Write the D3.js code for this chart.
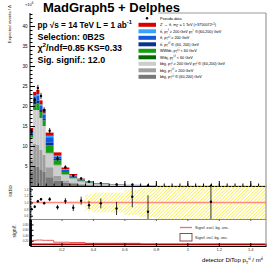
<!DOCTYPE html>
<html>
<head>
<meta charset="utf-8">
<script src="https://cdn.jsdelivr.net/npm/d3@7"></script>
<style>
body { margin: 0; background: #fff; }
svg { display: block; font-family: "Liberation Sans", Arial, sans-serif; }
</style>
</head>
<body>
<div id="chart"></div>
<script>
// bin edges in detector DiTop pT/m
const binEdges = [0, 0.02, 0.04, 0.06, 0.08, 0.1, 0.15, 0.2, 0.25, 0.3, 0.35, 0.4, 0.5, 0.6, 0.7, 0.8, 1.5];

// expected events / bin (x10^6), listed bottom of the stack first
const bbjjMid   = [3.5, 5.0, 4.8, 4.0, 3.5, 2.2, 1.4, 0.8, 0.5, 0.3, 0.2, 0.12, 0.07, 0.05, 0.03, 0.01];
const bbjjHigh  = [3.0, 5.5, 5.5, 5.0, 4.3, 2.5, 1.2, 0.6, 0.4, 0.25, 0.17, 0.1, 0.06, 0.04, 0.03, 0.01];
const bbjjMixed = [5.6, 8.5, 8.7, 8.0, 7.2, 3.5, 2.6, 1.5, 1.0, 0.6, 0.4, 0.25, 0.15, 0.1, 0.06, 0.03];
const wtbj      = [0.1, 0.2, 0.2, 0.2, 0.2, 0.2, 0.15, 0.1, 0.06, 0.04, 0.03, 0.02, 0.01, 0.01, 0.01, 0.003];
const wwbb      = [0.6, 1.2, 1.5, 1.3, 1.2, 1.8, 1.1, 0.5, 0.3, 0.2, 0.12, 0.07, 0.05, 0.03, 0.02, 0.008];
const ttMid     = [0.3, 0.6, 0.6, 0.5, 0.5, 0.6, 0.35, 0.2, 0.15, 0.1, 0.06, 0.04, 0.03, 0.02, 0.01, 0.005];
const ttHigh    = [0.5, 1.2, 1.2, 1.0, 1.0, 1.4, 0.6, 0.4, 0.25, 0.15, 0.1, 0.06, 0.04, 0.02, 0.015, 0.006];
const ttMixed   = [0.2, 0.4, 0.5, 0.4, 0.4, 0.35, 0.2, 0.12, 0.08, 0.06, 0.04, 0.03, 0.02, 0.01, 0.01, 0.003];
const zprime    = [0.7, 0.9, 1.0, 1.0, 0.9, 0.8, 0.8, 0.4, 0.26, 0.15, 0.1, 0.06, 0.04, 0.02, 0.01, 0.005];

const pseudoData    = [13.6, 21.5, 24.5, 22.5, 19.0, 13.8, 6.9, 4.7, 2.6, 1.9, 1.1, 0.73, 0.37, 0.35, 0.15, 0.08];
const pseudoDataErr = [0.7, 0.8, 0.8, 0.8, 0.7, 0.7, 0.6, 0.5, 0.4, 0.35, 0.3, 0.25, 0.2, 0.2, 0.15, 0.1];

// ratio pad
const ratio     = [0.80, 0.87, 1.04, 1.10, 0.98, 1.10, 0.855, 1.045, 0.84, 1.055, 0.92, 0.975, 0.82, 1.175, 0.72, 1.025];
const ratioErr  = [0.04, 0.04, 0.04, 0.04, 0.04, 0.06, 0.07, 0.09, 0.1, 0.12, 0.12, 0.15, 0.2, 0.32, 0.5, 0.6];
const mcStatUnc = [0.01, 0.01, 0.01, 0.01, 0.01, 0.015, 0.02, 0.03, 0.04, 0.06, 0.25, 0.3, 0.3, 0.38, 0.45, 0.5];

// significance pad
const signifExcl = [0.16, 0.21, 0.22, 0.22, 0.21, 0.21, 0.14, 0.14, 0.13, 0.13, 0.10, 0.10, 0.10, 0.10, 0.06, 0.05];
const signifIncl = [0.06, 0.06, 0.06, 0.06, 0.06, 0.06, 0.06, 0.06, 0.06, 0.06, 0.06, 0.06, 0.06, 0.06, 0.06, 0.06];

const legendLabels = [
  "Z' \u2192 tt\u0304, m_{Z'} = 1 TeV (\u00d73750072^{+1})",
  "tt\u0304, p_{T}^{t\u0304} \u2265 200 GeV p_{T}^{t} \u2208 (60,200) GeV",
  "tt\u0304, p_{T}^{t,t\u0304} \u2265 200 GeV",
  "tt\u0304, p_{T}^{t,t\u0304} \u2208 (60, 200) GeV",
  "WWbb, p_{T}^{t,t\u0304} < 60 GeV",
  "Wtbj, p_{T}^{t,t\u0304} < 60 GeV",
  "bbjj, p_{T}^{t\u0304} \u2265 200 GeV p_{T}^{t} \u2208 (60,200) GeV",
  "bbjj, p_{T}^{t,t\u0304} \u2265 200 GeV",
  "bbjj, p_{T}^{t,t\u0304} \u2208 (60,200) GeV"
];
const xTicks = [0.2, 0.4, 0.6, 0.8, 1, 1.2, 1.4];
const yTicks = [5, 10, 15, 20, 25, 30, 35, 40];

// stack order bottom -> top, legend order is the reverse
const layers = [
  { key: "bbjjMid", values: bbjjMid, color: "#787878" },
  { key: "bbjjHigh", values: bbjjHigh, color: "#a0a0a0" },
  { key: "bbjjMixed", values: bbjjMixed, color: "#cdcdcd" },
  { key: "wtbj", values: wtbj, color: "#006a00" },
  { key: "wwbb", values: wwbb, color: "#12a012" },
  { key: "ttMid", values: ttMid, color: "#08348f" },
  { key: "ttHigh", values: ttHigh, color: "#1358dc" },
  { key: "ttMixed", values: ttMixed, color: "#34a2ff" },
  { key: "zprime", values: zprime, color: "#d80000" }
];

const bins = d3.range(binEdges.length - 1).map(i => {
  const row = { x0: binEdges[i], x1: binEdges[i + 1] };
  layers.forEach(l => row[l.key] = l.values[i]);
  return row;
});
const stacked = d3.stack().keys(layers.map(l => l.key))(bins);

const W = 274, H = 267;
const svg = d3.select('#chart').append('svg')
  .attr('width', W).attr('height', H);

const defs = svg.append('defs');
defs.append('pattern')
  .attr('id', 'hatchY')
  .attr('patternUnits', 'userSpaceOnUse')
  .attr('width', 2.4).attr('height', 2.4)
  .attr('patternTransform', 'rotate(45)')
  .append('line')
  .attr('x1', 0).attr('y1', 0).attr('x2', 0).attr('y2', 2.4)
  .attr('stroke', '#f5e800').attr('stroke-width', 1.1);

const x = d3.scaleLinear().domain([0, 1.5]).range([30, 266]);
const y = d3.scaleLinear().domain([0, 43.25]).range([186, 13]);
const yR = d3.scaleLinear().domain([0.5, 1.5]).range([219, 186]);
const yS = d3.scaleLinear().domain([0, 1]).range([246, 219]);

defs.append('clipPath').attr('id', 'clipMain')
  .append('rect').attr('x', 30).attr('y', 13).attr('width', 236).attr('height', 173);
defs.append('clipPath').attr('id', 'clipRatio')
  .append('rect').attr('x', 30).attr('y', 186).attr('width', 236).attr('height', 33);

// rich text: _{..} subscript, ^{..} superscript
function rich(sel, str, fs) {
  let shift = 0;
  str.split(/(_\{[^}]*\}|\^\{[^}]*\})/).filter(s => s).forEach(s => {
    let target = 0, size = fs, t = s;
    if (s.startsWith('_{')) { target = 0.3 * fs; size = 0.7 * fs; t = s.slice(2, -1); }
    else if (s.startsWith('^{')) { target = -0.4 * fs; size = 0.7 * fs; t = s.slice(2, -1); }
    sel.append('tspan').attr('dy', target - shift).attr('font-size', size).text(t);
    shift = target;
  });
}

// ---------- main pad ----------
const main = svg.append('g').attr('clip-path', 'url(#clipMain)');

main.selectAll('g.layer')
  .data(stacked)
  .join('g')
  .attr('fill', (d, i) => layers[i].color)
  .selectAll('rect')
  .data(d => d)
  .join('rect')
  .attr('x', d => x(d.data.x0))
  .attr('width', d => x(d.data.x1) - x(d.data.x0))
  .attr('y', d => y(d[1]))
  .attr('height', d => y(d[0]) - y(d[1]));

const dataPts = main.append('g');
bins.forEach((b, i) => {
  const cx = x((b.x0 + b.x1) / 2);
  dataPts.append('line')
    .attr('x1', cx).attr('x2', cx)
    .attr('y1', y(pseudoData[i] - pseudoDataErr[i]))
    .attr('y2', y(pseudoData[i] + pseudoDataErr[i]))
    .attr('stroke', '#000').attr('stroke-width', 0.8);
  dataPts.append('circle')
    .attr('cx', cx).attr('cy', y(pseudoData[i])).attr('r', 1.2);
});

svg.append('g')
  .attr('transform', 'translate(30,0)')
  .call(d3.axisLeft(y).tickValues(d3.range(1, 44)).tickSize(-2.5).tickSizeOuter(0).tickFormat(''))
  .call(g => g.select('.domain').remove());
svg.append('g')
  .attr('transform', 'translate(30,0)')
  .call(d3.axisLeft(y).tickValues(yTicks).tickSize(-5).tickSizeOuter(0).tickPadding(2.5))
  .call(g => g.select('.domain').attr('d', 'M0,13V186'))
  .call(g => g.selectAll('text').attr('font-size', 4.6).attr('font-family', 'Liberation Sans, Arial'));

svg.append('g')
  .attr('transform', 'translate(0,186)')
  .call(d3.axisBottom(x).tickValues(d3.range(0.05, 1.5, 0.05)).tickSize(-2.5).tickSizeOuter(0).tickFormat(''))
  .call(g => g.select('.domain').remove());
svg.append('g')
  .attr('transform', 'translate(0,186)')
  .call(d3.axisBottom(x).tickValues(xTicks).tickSize(-5).tickSizeOuter(0).tickFormat(''));

svg.append('text')
  .attr('x', 25).attr('y', 5.5).attr('font-size', 4)
  .call(t => rich(t, '\u00d710^{6}', 4));

svg.append('text')
  .attr('transform', 'translate(10.5,5) rotate(-90)')
  .attr('text-anchor', 'end').attr('font-size', 4.3).attr('fill', '#222')
  .text('Expected events / \u0394');

svg.append('text')
  .attr('x', 43).attr('y', 12)
  .attr('font-size', 13).attr('font-weight', 'bold')
  .text('MadGraph5 + Delphes');

const info = svg.append('g').attr('font-weight', 'bold');
info.append('text').attr('x', 37.5).attr('y', 27.5).attr('font-size', 8.2)
  .call(t => rich(t, 'pp  \u221as = 14 TeV  L = 1 ab^{-1}', 8.2));
info.append('text').attr('x', 37.5).attr('y', 39.5).attr('font-size', 8.9)
  .text('Selection: 0B2S');
info.append('text').attr('x', 37.5).attr('y', 51).attr('font-size', 8.9)
  .call(t => rich(t, '\u03c7^{2}/ndf=0.85 KS=0.33', 8.9));
info.append('text').attr('x', 37.5).attr('y', 62.5).attr('font-size', 8.9)
  .text('Sig. signif.: 12.0');

// legend
const leg = svg.append('g').attr('font-size', 3.8);
const legY = i => 18.3 + 6.5 * i;
leg.append('circle').attr('cx', 147).attr('cy', legY(0)).attr('r', 1.2);
leg.append('text').attr('x', 160).attr('y', legY(0) + 1.3).text('Pseudo-data');
legendLabels.forEach((lab, i) => {
  const layer = layers[layers.length - 1 - i];
  leg.append('rect')
    .attr('x', 138.5).attr('y', legY(i + 1) - 2).attr('width', 17.5).attr('height', 4)
    .attr('fill', layer.color);
  leg.append('text').attr('x', 160).attr('y', legY(i + 1) + 1.3)
    .call(t => rich(t, lab, 3.8));
});

// ---------- ratio pad ----------
const rp = svg.append('g').attr('clip-path', 'url(#clipRatio)');
rp.selectAll('rect.band')
  .data(bins)
  .join('rect')
  .attr('x', d => x(d.x0))
  .attr('width', d => x(d.x1) - x(d.x0))
  .attr('y', (d, i) => yR(1 + mcStatUnc[i]))
  .attr('height', (d, i) => yR(1 - mcStatUnc[i]) - yR(1 + mcStatUnc[i]))
  .attr('fill', 'url(#hatchY)');
rp.append('line')
  .attr('x1', 30).attr('x2', 266).attr('y1', yR(1)).attr('y2', yR(1))
  .attr('stroke', '#ff8a80').attr('stroke-width', 1.6);
bins.forEach((b, i) => {
  const cx = x((b.x0 + b.x1) / 2);
  rp.append('line')
    .attr('x1', cx).attr('x2', cx)
    .attr('y1', yR(ratio[i] - ratioErr[i])).attr('y2', yR(ratio[i] + ratioErr[i]))
    .attr('stroke', '#000').attr('stroke-width', 0.8);
  rp.append('circle').attr('cx', cx).attr('cy', yR(ratio[i])).attr('r', 1.2);
});

svg.append('g')
  .attr('transform', 'translate(30,0)')
  .call(d3.axisLeft(yR).tickValues(d3.range(0.55, 1.5, 0.05)).tickSize(-1.5).tickSizeOuter(0).tickFormat(''))
  .call(g => g.select('.domain').remove());
svg.append('g')
  .attr('transform', 'translate(30,0)')
  .call(d3.axisLeft(yR).tickValues([0.6, 0.8, 1, 1.2, 1.4]).tickSize(-3).tickSizeOuter(0).tickPadding(1.5))
  .call(g => g.select('.domain').attr('d', 'M0,186V219'))
  .call(g => g.selectAll('text').attr('font-size', 3).attr('fill', '#444').attr('font-family', 'Liberation Sans, Arial'));

svg.append('text')
  .attr('transform', 'translate(11.5,191) rotate(-90)')
  .attr('text-anchor', 'middle').attr('font-size', 6).attr('fill', '#222')
  .text('ratio');

// separator between ratio and significance pads
svg.append('g')
  .attr('transform', 'translate(0,219)')
  .call(d3.axisBottom(x).tickValues(xTicks).tickSize(2).tickSizeOuter(0).tickFormat(''))
  .call(g => g.select('.domain').attr('stroke', '#888'))
  .call(g => g.selectAll('.tick line').attr('stroke', '#666'));

// ---------- significance pad ----------
const stepPts = arr => {
  const pts = [[binEdges[0], 0]];
  arr.forEach((v, i) => { pts.push([binEdges[i], v]); pts.push([binEdges[i + 1], v]); });
  pts.push([binEdges[binEdges.length - 1], 0]);
  return pts;
};
const stepLine = d3.line().x(d => x(d[0])).y(d => yS(d[1]));

svg.append('path')
  .attr('d', stepLine(stepPts(signifExcl)))
  .attr('fill', 'none').attr('stroke', '#e85858').attr('stroke-width', 1);
svg.append('path')
  .attr('d', stepLine(stepPts(signifIncl)))
  .attr('fill', 'none').attr('stroke', '#a00000').attr('stroke-width', 1.8);

svg.append('g')
  .attr('transform', 'translate(30,0)')
  .call(d3.axisLeft(yS).tickValues(d3.range(0.025, 1, 0.025)).tickSize(-2).tickSizeOuter(0).tickFormat(''))
  .call(g => g.select('.domain').remove());
svg.append('g')
  .attr('transform', 'translate(30,0)')
  .call(d3.axisLeft(yS).tickValues([0.2, 0.4, 0.6, 0.8]).tickSize(-3.5).tickSizeOuter(0).tickPadding(1.5).tickFormat(d3.format('.2f')))
  .call(g => g.select('.domain').attr('d', 'M0,219V246').attr('stroke-width', 1.6))
  .call(g => g.selectAll('text').attr('font-size', 3).attr('fill', '#444').attr('font-family', 'Liberation Sans, Arial'));

svg.append('text')
  .attr('transform', 'translate(16,231) rotate(-90)')
  .attr('text-anchor', 'middle').attr('font-size', 5).attr('fill', '#222')
  .text('signif.');

svg.append('g')
  .attr('transform', 'translate(0,246)')
  .call(d3.axisBottom(x).tickValues(xTicks).tickSize(-3).tickSizeOuter(0).tickPadding(2.5)
    .tickFormat(d3.format('~g')))
  .call(g => g.selectAll('text').attr('font-size', 4).attr('fill', '#333').attr('font-family', 'Liberation Sans, Arial'));

svg.append('text')
  .attr('x', 263).attr('y', 262).attr('text-anchor', 'end').attr('font-size', 6)
  .call(t => rich(t, 'detector DiTop p_{T}^{tt\u0304} / m^{tt\u0304}', 6));

// significance legend
const sl = svg.append('g').attr('font-size', 3.8).attr('fill', '#222');
sl.append('line').attr('x1', 180).attr('x2', 192).attr('y1', 227.5).attr('y2', 227.5)
  .attr('stroke', '#ee7070').attr('stroke-width', 1.3);
sl.append('text').attr('x', 195).attr('y', 228.8).text('Signif. excl. bg. unc.');
sl.append('rect').attr('x', 180).attr('y', 233.5).attr('width', 12).attr('height', 7.5)
  .attr('fill', 'none').attr('stroke', '#7a2020').attr('stroke-width', 0.8);
sl.append('text').attr('x', 195).attr('y', 238.8).text('Signif. incl. bg. unc.');

// frame edges
svg.append('line').attr('x1', 266).attr('x2', 266).attr('y1', 13).attr('y2', 246)
  .attr('stroke', '#9a9a9a').attr('stroke-width', 1.2);
svg.append('line').attr('x1', 158).attr('x2', 266).attr('y1', 13).attr('y2', 13)
  .attr('stroke', '#9a9a9a').attr('stroke-width', 1);
</script>
</body>
</html>
